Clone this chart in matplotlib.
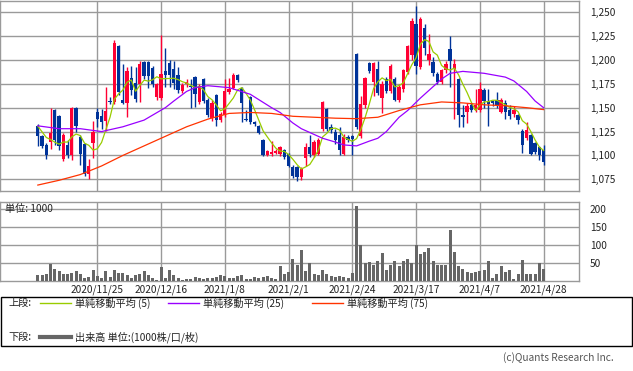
import numpy as np
import pandas as pd
import matplotlib
matplotlib.use("Agg")
import matplotlib.pyplot as plt
from matplotlib.lines import Line2D
from matplotlib.patches import Rectangle

plt.rcParams['font.family'] = ['Noto Sans CJK JP', 'DejaVu Sans']

# daily prices (yen)
opens = [1131, 1120, 1111, 1114, 1148, 1141, 1096, 1111, 1100, 1150,
         1119, 1112, 1081, 1113, 1146, 1141, 1136, 1157, 1156, 1215,
         1158, 1155, 1181, 1176, 1175, 1198, 1198, 1192, 1161, 1160,
         1188, 1197, 1190, 1184, 1167, 1175, 1173, 1182, 1156, 1180,
         1158, 1139, 1163, 1137, 1142, 1166, 1171, 1184, 1171, 1138,
         1161, 1135, 1131, 1116, 1100, 1101, 1103, 1101, 1106, 1101,
         1088, 1088, 1077, 1097, 1109, 1100, 1102, 1128, 1149, 1130,
         1125, 1121, 1102, 1119, 1120, 1206, 1120, 1153, 1197, 1177,
         1191, 1160, 1180, 1167, 1180, 1158, 1170, 1187, 1205, 1238,
         1193, 1233, 1200, 1198, 1185, 1177, 1189, 1211, 1190, 1180,
         1142, 1145, 1153, 1148, 1148, 1168, 1157, 1157, 1158, 1146,
         1155, 1148, 1143, 1142, 1126, 1118, 1121, 1113, 1109, 1106]
highs = [1133, 1121, 1113, 1150, 1149, 1142, 1124, 1116, 1151, 1151,
         1121, 1113, 1096, 1136, 1150, 1149, 1172, 1161, 1221, 1216,
         1196, 1193, 1194, 1193, 1199, 1199, 1199, 1194, 1176, 1226,
         1213, 1200, 1199, 1193, 1176, 1180, 1180, 1183, 1175, 1181,
         1160, 1158, 1164, 1146, 1180, 1181, 1186, 1185, 1172, 1148,
         1162, 1136, 1132, 1117, 1106, 1115, 1107, 1110, 1107, 1103,
         1090, 1089, 1088, 1113, 1121, 1116, 1118, 1157, 1150, 1133,
         1128, 1130, 1122, 1121, 1121, 1207, 1162, 1182, 1198, 1198,
         1199, 1178, 1182, 1196, 1182, 1175, 1190, 1216, 1244, 1256,
         1245, 1238, 1227, 1203, 1187, 1191, 1199, 1225, 1201, 1181,
         1153, 1155, 1155, 1170, 1177, 1171, 1170, 1158, 1166, 1160,
         1158, 1153, 1152, 1143, 1128, 1135, 1122, 1114, 1110, 1111]
lows = [1110, 1108, 1096, 1107, 1111, 1106, 1094, 1097, 1095, 1125,
        1090, 1079, 1075, 1097, 1130, 1128, 1126, 1154, 1154, 1163,
        1154, 1140, 1163, 1156, 1156, 1180, 1171, 1172, 1158, 1158,
        1172, 1172, 1170, 1165, 1165, 1172, 1150, 1151, 1154, 1155,
        1140, 1136, 1131, 1135, 1140, 1164, 1170, 1177, 1135, 1136,
        1133, 1131, 1122, 1099, 1099, 1099, 1101, 1099, 1096, 1088,
        1076, 1073, 1074, 1089, 1098, 1098, 1100, 1126, 1126, 1124,
        1112, 1100, 1100, 1114, 1100, 1128, 1118, 1150, 1186, 1162,
        1163, 1144, 1165, 1165, 1157, 1156, 1166, 1185, 1200, 1185,
        1190, 1205, 1195, 1183, 1175, 1175, 1186, 1172, 1138, 1130,
        1130, 1134, 1146, 1146, 1145, 1150, 1131, 1152, 1150, 1144,
        1138, 1138, 1140, 1133, 1103, 1116, 1100, 1102, 1095, 1090]
closes = [1120, 1110, 1100, 1123, 1116, 1110, 1121, 1100, 1150, 1131,
          1102, 1081, 1089, 1125, 1138, 1135, 1147, 1156, 1218, 1166,
          1155, 1188, 1168, 1159, 1196, 1183, 1183, 1175, 1175, 1185,
          1184, 1184, 1176, 1168, 1174, 1177, 1172, 1164, 1173, 1157,
          1142, 1155, 1137, 1143, 1167, 1170, 1184, 1179, 1155, 1137,
          1135, 1133, 1124, 1100, 1105, 1104, 1105, 1109, 1098, 1089,
          1079, 1077, 1086, 1109, 1102, 1114, 1116, 1156, 1128, 1127,
          1116, 1106, 1119, 1116, 1117, 1130, 1154, 1181, 1188, 1197,
          1165, 1175, 1167, 1194, 1158, 1172, 1189, 1215, 1241, 1194,
          1243, 1213, 1206, 1186, 1177, 1189, 1196, 1199, 1196, 1142,
          1140, 1152, 1148, 1153, 1170, 1157, 1154, 1155, 1153, 1158,
          1145, 1141, 1148, 1137, 1111, 1127, 1102, 1104, 1100, 1093]

# volume (1000 shares)
volume = [15, 15, 18, 46, 32, 26, 19, 20, 23, 26, 18, 7, 10, 29, 13, 7, 26, 10, 30, 21,
          21, 15, 7, 15, 20, 26, 15, 7, 1, 37, 9, 30, 15, 8, 2, 6, 6, 11, 8, 4,
          8, 7, 11, 16, 13, 9, 9, 13, 16, 5, 6, 10, 8, 10, 12, 8, 6, 40, 20, 24,
          62, 45, 87, 26, 49, 18, 15, 29, 18, 12, 10, 12, 10, 9, 23, 207, 99, 49, 51, 44,
          56, 77, 31, 44, 54, 40, 54, 62, 49, 99, 74, 80, 90, 56, 44, 44, 44, 140, 80, 40,
          34, 24, 21, 24, 27, 31, 54, 8, 20, 40, 24, 31, 6, 20, 59, 20, 18, 20, 49, 34]

# 5-day MA: first four points (need earlier closes)
ma5_head = [1130.6, 1124.7, 1118.8, 1116.7]

# 25-day MA
ma25_idx = [0, 5, 10, 15, 20, 25, 30, 32, 35, 37, 40, 45, 50, 55, 57, 60, 62, 65, 67,
            70, 72, 75, 78, 80, 82, 85, 87, 90, 92, 95, 97, 100, 105, 110, 112, 115, 117, 119]
ma25 = [1131, 1128, 1128, 1125, 1130, 1137, 1150, 1157, 1167, 1171, 1173, 1171, 1164,
        1150, 1145, 1134, 1128, 1122, 1118, 1114, 1111, 1110, 1115, 1118, 1125, 1140,
        1147, 1160, 1168, 1180, 1186, 1188, 1186, 1182, 1178, 1167, 1157, 1150]

# 75-day MA
ma75_idx = [0, 5, 10, 15, 20, 25, 30, 35, 40, 45, 50, 55, 60, 65, 70, 75, 80, 85, 90, 95,
            100, 105, 110, 115, 119]
ma75 = [1069, 1074, 1080, 1089, 1100, 1110, 1120, 1130, 1138, 1144, 1145, 1144, 1141,
        1140, 1139, 1138.5, 1140, 1147, 1153, 1156, 1155, 1153, 1152, 1150, 1148]

date_pos = [14, 29, 44, 59, 74, 89, 104, 119]
date_labels = ['2020/11/25', '2020/12/16', '2021/1/8', '2021/2/1',
               '2021/2/24', '2021/3/17', '2021/4/7', '2021/4/28']

price_ticks = [1075, 1100, 1125, 1150, 1175, 1200, 1225, 1250]
vol_ticks = [50, 100, 150, 200]

W, H = 633, 371
fig = plt.figure(figsize=(W / 100, H / 100), dpi=100)
fig.patch.set_facecolor('white')

grid_c = '#9a9a9a'
up_c = '#ff0033'
down_c = '#003399'
fs = 7.3

def px_axes(x0, y0, x1, y1):
    return fig.add_axes([x0 / W, 1 - y1 / H, (x1 - x0) / W, (y1 - y0) / H])

ax = px_axes(0, 0.5, 579.3, 190.7)
axv = px_axes(0, 201.7, 579.3, 280.8)

x = np.arange(len(closes))
o = np.array(opens)
c = np.array(closes)
colors = np.where(c >= o, up_c, down_c)

# candles
ax.vlines(x, lows, highs, colors=colors, linewidth=1.0, zorder=3)
body_low = np.minimum(o, c)
body_h = np.maximum(np.abs(c - o), 0.8)
ax.bar(x, body_h, bottom=body_low, width=0.78, color=colors, linewidth=0, zorder=4)

# moving averages
ma5 = pd.Series(closes, dtype=float).rolling(5).mean().values
ma5[:4] = ma5_head
ax.plot(x, ma5, color='#99cc00', linewidth=0.9, zorder=5)
ax.plot(ma25_idx, ma25, color='#9900ff', linewidth=0.9, zorder=5)
ax.plot(ma75_idx, ma75, color='#ff3300', linewidth=0.9, zorder=5)

ax.set_xlim(-8.9, 127.4)
ax.set_ylim(1063.1, 1262.2)

# volume
axv.bar(x, volume, width=0.72, color='#666666', linewidth=0, zorder=3)
axv.set_xlim(-8.9, 127.4)
axv.set_ylim(0, 220)

for a, yt in ((ax, price_ticks), (axv, vol_ticks)):
    a.set_xticks(date_pos)
    a.set_yticks(yt)
    a.grid(True, color=grid_c, linewidth=1.0)
    a.set_axisbelow(True)
    a.yaxis.tick_right()
    a.tick_params(length=0, labelsize=fs, colors='#222222', pad=7.5)
    for s in a.spines.values():
        s.set_color(grid_c)
        s.set_linewidth(1.0)

ax.set_xticklabels([])
ax.set_yticklabels(['{:,}'.format(v) for v in price_ticks])
axv.set_xticklabels(date_labels)
axv.set_yticklabels([str(v) for v in vol_ticks])
axv.tick_params(axis='x', pad=2.5)
for lab in axv.get_yticklabels() + ax.get_yticklabels():
    lab.set_horizontalalignment('left')

fig.text(5 / W, 1 - 209 / H, '単位: 1000', fontsize=fs, va='center', ha='left', color='#222222')

# legend box
fig.add_artist(Rectangle((1 / W, 1 - 346 / H), 631 / W, 49.5 / H, transform=fig.transFigure,
                         fill=False, edgecolor='black', linewidth=1.0))
y1 = 1 - 303 / H
y2 = 1 - 337 / H
fig.text(8 / W, y1, '上段:', fontsize=fs, va='center', color='#222222')
fig.text(8 / W, y2, '下段:', fontsize=fs, va='center', color='#222222')
legend_items = [(40, 75, '#99cc00', '単純移動平均 (5)'),
                (168, 203, '#9900ff', '単純移動平均 (25)'),
                (312, 347, '#ff3300', '単純移動平均 (75)')]
for lx, tx, col, txt in legend_items:
    fig.add_artist(Line2D([lx / W, (lx + 31) / W], [y1, y1], color=col, linewidth=1.0,
                          transform=fig.transFigure))
    fig.text(tx / W, y1, txt, fontsize=fs, va='center', color='#222222')
fig.add_artist(Line2D([40 / W, 71 / W], [y2, y2], color='#666666', linewidth=3.0,
                      transform=fig.transFigure))
fig.text(75 / W, y2, '出来高 単位:(1000株/口/枚)', fontsize=fs, va='center', color='#222222')

fig.text(614 / W, 1 - 358 / H, '(c)Quants Research Inc.', fontsize=fs, va='center', ha='right',
         color='#555555')

fig.savefig('out.png', dpi=100, facecolor='white')
